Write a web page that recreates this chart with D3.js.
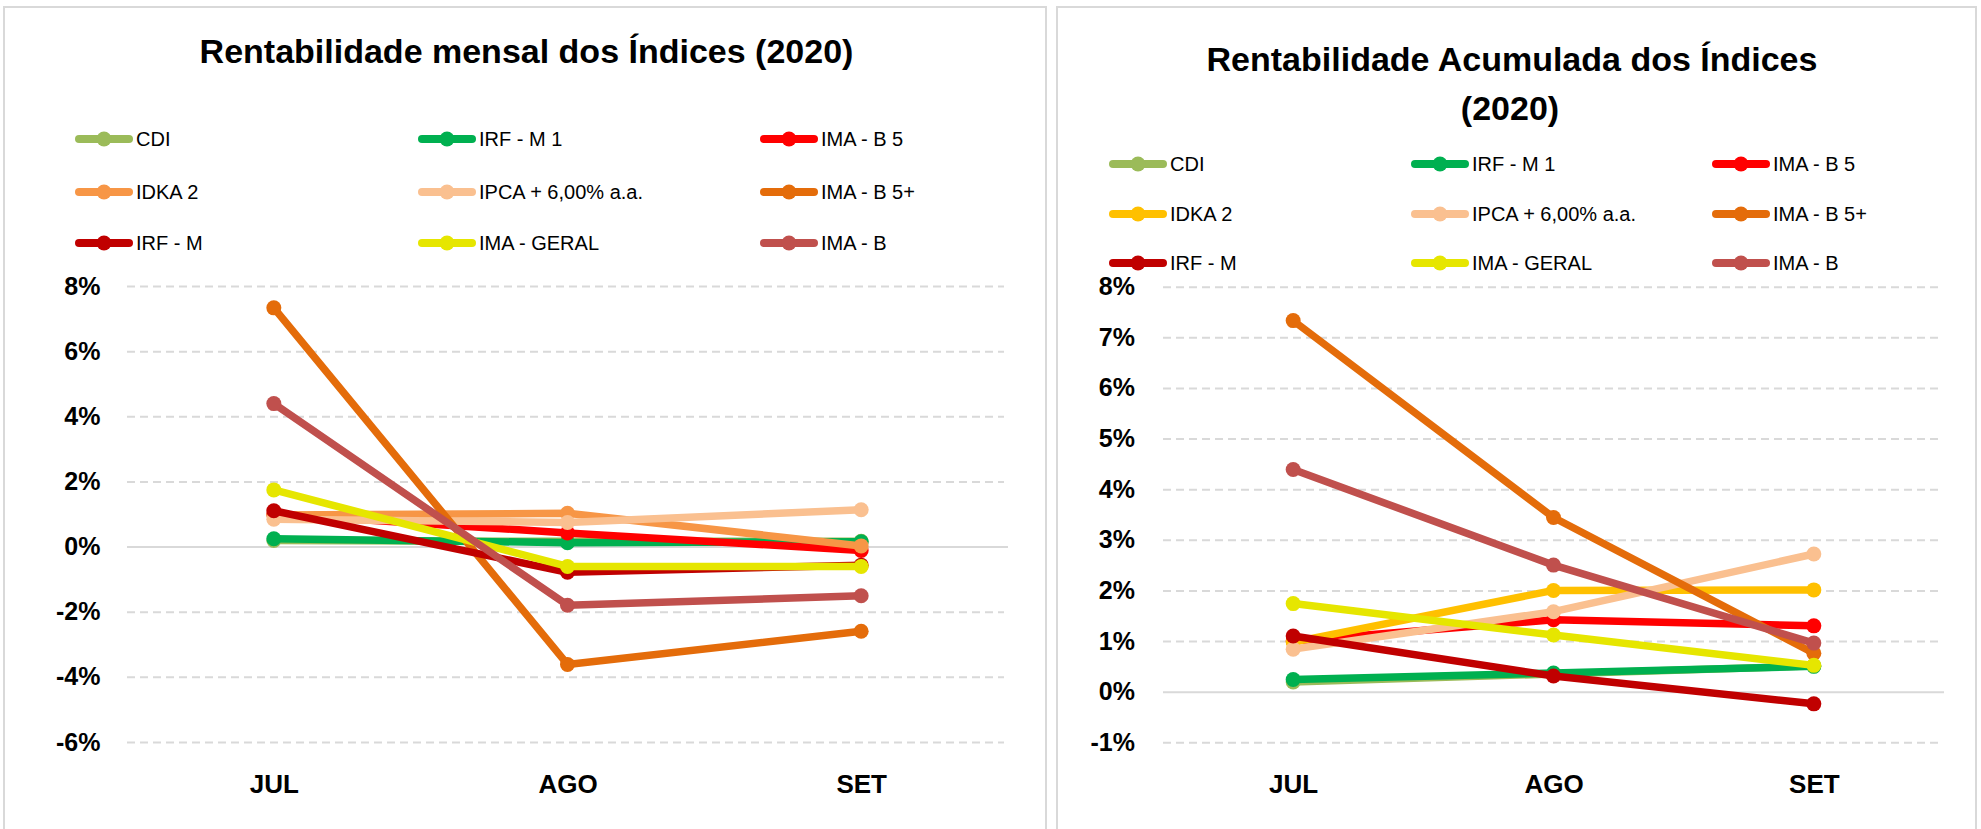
<!DOCTYPE html>
<html>
<head>
<meta charset="utf-8">
<script src="https://cdn.jsdelivr.net/npm/d3@7"></script>
<style>
  html, body { margin: 0; padding: 0; background: #ffffff; }
  svg { display: block; }
  text { font-family: "Liberation Sans", Arial, sans-serif; }
</style>
</head>
<body>
<svg id="chart" width="1981" height="829"></svg>
<script>
// ---------- DATA ----------
const categories = ["JUL", "AGO", "SET"];
const seriesNames = ["CDI", "IRF - M 1", "IMA - B 5", "IDKA 2", "IPCA + 6,00% a.a.", "IMA - B 5+", "IRF - M", "IMA - GERAL", "IMA - B"];

// Rentabilidade mensal (%)
const mensalCDI       = [0.19, 0.16, 0.16];
const mensalIRFM1     = [0.24, 0.12, 0.15];
const mensalIMAB5     = [1.00, 0.42, -0.12];
const mensalIDKA2     = [0.97, 1.02, 0.02];
const mensalIPCA6     = [0.84, 0.74, 1.13];
const mensalIMAB5mais = [7.33, -3.62, -2.60];
const mensalIRFM      = [1.10, -0.79, -0.57];
const mensalIMAGeral  = [1.74, -0.61, -0.61];
const mensalIMAB      = [4.39, -1.80, -1.51];

// Rentabilidade acumulada (%)
const acumCDI       = [0.19, 0.35, 0.51];
const acumIRFM1     = [0.24, 0.37, 0.50];
const acumIMAB5     = [1.00, 1.42, 1.30];
const acumIDKA2     = [0.98, 2.00, 2.01];
const acumIPCA6     = [0.84, 1.58, 2.72];
const acumIMAB5mais = [7.33, 3.44, 0.76];
const acumIRFM      = [1.10, 0.31, -0.24];
const acumIMAGeral  = [1.74, 1.12, 0.52];
const acumIMAB      = [4.39, 2.50, 0.96];

const ticksMensal = [-6, -4, -2, 0, 2, 4, 6, 8];
const ticksAcum   = [-1, 0, 1, 2, 3, 4, 5, 6, 7, 8];

const colorsMensal = ["#9BBB59", "#00B050", "#FF0000", "#F79646", "#FAC090", "#E46C0A", "#C00000", "#E6E600", "#C0504D"];
const colorsAcum   = ["#9BBB59", "#00B050", "#FF0000", "#FFC000", "#FAC090", "#E46C0A", "#C00000", "#E6E600", "#C0504D"];

const mensalValues = [mensalCDI, mensalIRFM1, mensalIMAB5, mensalIDKA2, mensalIPCA6, mensalIMAB5mais, mensalIRFM, mensalIMAGeral, mensalIMAB];
const acumValues   = [acumCDI, acumIRFM1, acumIMAB5, acumIDKA2, acumIPCA6, acumIMAB5mais, acumIRFM, acumIMAGeral, acumIMAB];

// ---------- DRAW ----------
const svg = d3.select("#chart");
const GRID = "#D9D9D9";

function drawPanel(cfg) {
  const g = svg.append("g");

  // panel border
  g.append("rect")
    .attr("x", cfg.panel[0]).attr("y", cfg.panel[1])
    .attr("width", cfg.panel[2]).attr("height", cfg.panel[3])
    .attr("fill", "#fff").attr("stroke", GRID).attr("stroke-width", 2);

  // title
  cfg.title.forEach(t => {
    g.append("text")
      .attr("x", t.x).attr("y", t.y)
      .attr("text-anchor", "middle")
      .attr("font-size", 34).attr("font-weight", "bold").attr("fill", "#000")
      .text(t.text);
  });

  const x = d3.scalePoint().domain(categories).range([cfg.plotX0, cfg.plotX1]).padding(0.5);
  const y = d3.scaleLinear().domain(cfg.yDomain).range([cfg.yBottom, cfg.yTop]);

  // y axis + gridlines
  const yAxis = d3.axisLeft(y)
    .tickValues(cfg.ticks)
    .tickSize(-(cfg.gridX1 - cfg.plotX0))
    .tickPadding(cfg.tickPad)
    .tickFormat(d => d + "%");
  const ya = g.append("g").attr("transform", `translate(${cfg.plotX0},0)`).call(yAxis);
  ya.select(".domain").remove();
  ya.selectAll(".tick line")
    .attr("stroke", GRID).attr("stroke-width", 2)
    .attr("stroke-dasharray", d => d === 0 ? null : "8,5");
  ya.selectAll(".tick").filter(d => d === 0).select("line")
    .attr("x2", cfg.plotX1 - cfg.plotX0);
  ya.selectAll(".tick text")
    .attr("font-size", 25).attr("font-weight", "bold").attr("fill", "#000")
    .attr("font-family", "Liberation Sans, Arial, sans-serif");

  // x axis labels
  const xAxis = d3.axisBottom(x).tickSize(0).tickPadding(0);
  const xa = g.append("g").attr("transform", `translate(0,775)`).call(xAxis);
  xa.select(".domain").remove();
  xa.selectAll(".tick text")
    .attr("dy", "0.71em")
    .attr("font-size", 26).attr("font-weight", "bold").attr("fill", "#000")
    .attr("font-family", "Liberation Sans, Arial, sans-serif");

  // series
  const line = d3.line().x((d, i) => x(categories[i])).y(d => y(d));
  cfg.values.forEach((vals, s) => {
    const sg = g.append("g");
    sg.append("path")
      .attr("d", line(vals))
      .attr("fill", "none")
      .attr("stroke", cfg.colors[s])
      .attr("stroke-width", 7.5)
      .attr("stroke-linejoin", "round")
      .attr("stroke-linecap", "round");
    sg.selectAll("circle").data(vals).enter().append("circle")
      .attr("cx", (d, i) => x(categories[i]))
      .attr("cy", d => y(d))
      .attr("r", 7.5)
      .attr("fill", cfg.colors[s]);
  });

  // legend
  seriesNames.forEach((name, i) => {
    const col = i % 3, row = Math.floor(i / 3);
    const lx = cfg.legendCols[col], ly = cfg.legendRows[row];
    const lg = g.append("g");
    lg.append("line")
      .attr("x1", lx + 4).attr("x2", lx + 54)
      .attr("y1", ly).attr("y2", ly)
      .attr("stroke", cfg.colors[i]).attr("stroke-width", 8)
      .attr("stroke-linecap", "round");
    lg.append("circle")
      .attr("cx", lx + 29).attr("cy", ly).attr("r", 7.5)
      .attr("fill", cfg.colors[i]);
    lg.append("text")
      .attr("x", lx + 61).attr("y", ly + 7)
      .attr("font-size", 20).attr("fill", "#000")
      .text(name);
  });
}

drawPanel({
  panel: [4, 7, 1042, 830],
  title: [{ text: "Rentabilidade mensal dos Índices (2020)", x: 526.5, y: 63 }],
  plotX0: 127, plotX1: 1008, gridX1: 1004,
  yDomain: [-6, 8], yBottom: 742, yTop: 286,
  ticks: ticksMensal, tickPad: 26.5,
  values: mensalValues, colors: colorsMensal,
  legendCols: [75, 418, 760], legendRows: [139, 192, 243]
});

drawPanel({
  panel: [1057, 7, 919, 830],
  title: [
    { text: "Rentabilidade Acumulada dos Índices", x: 1512, y: 70.5 },
    { text: "(2020)", x: 1510, y: 119.5 }
  ],
  plotX0: 1163, plotX1: 1944, gridX1: 1941,
  yDomain: [-1, 8], yBottom: 742.3, yTop: 286.7,
  ticks: ticksAcum, tickPad: 28,
  values: acumValues, colors: colorsAcum,
  legendCols: [1109, 1411, 1712], legendRows: [164, 214, 263]
});
</script>
</body>
</html>
